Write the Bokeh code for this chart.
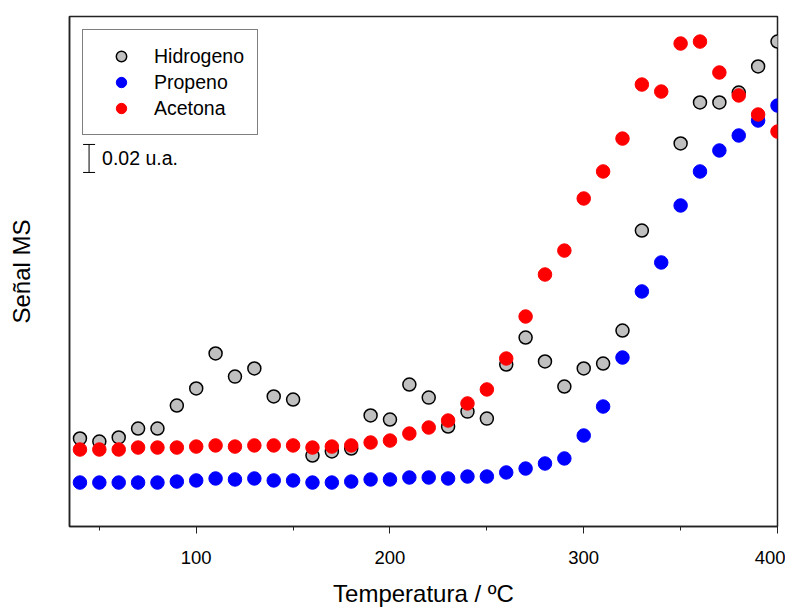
import numpy as np
from bokeh.plotting import figure
from bokeh.models import FixedTicker, Range1d, Legend, LegendItem, ColumnDataSource
from bokeh.core.properties import value
from bokeh.embed import file_html
from bokeh.resources import INLINE

temperatura = [40, 50, 60, 70, 80, 90, 100, 110, 120, 130, 140, 150, 160, 170, 180, 190,
               200, 210, 220, 230, 240, 250, 260, 270, 280, 290, 300, 310, 320, 330, 340,
               350, 360, 370, 380, 390, 400]

hidrogeno = [0.0629, 0.0607, 0.0636, 0.0700, 0.0700, 0.0864, 0.0986, 0.1236, 0.1071, 0.1129,
             0.0929, 0.0907, 0.0507, 0.0536, 0.0557, 0.0793, 0.0764, 0.1014, 0.0921, 0.0714,
             0.0821, 0.0771, 0.1157, 0.1350, 0.1179, 0.1000, 0.1129, 0.1164, 0.1400, 0.2114,
             float("nan"), 0.2736, 0.3029, 0.3029, 0.3100, 0.3286, 0.3464]

propeno = [0.0314, 0.0314, 0.0314, 0.0314, 0.0314, 0.0321, 0.0329, 0.0343, 0.0336, 0.0343,
           0.0329, 0.0329, 0.0314, 0.0314, 0.0321, 0.0336, 0.0336, 0.0350, 0.0350, 0.0343,
           0.0357, 0.0357, 0.0386, 0.0414, 0.0450, 0.0486, 0.0650, 0.0857, 0.1207, 0.1679,
           0.1886, 0.2293, 0.2536, 0.2686, 0.2793, 0.2900, 0.3007]

acetona = [0.0550, 0.0550, 0.0550, 0.0564, 0.0564, 0.0564, 0.0571, 0.0579, 0.0571, 0.0579,
           0.0579, 0.0579, 0.0564, 0.0571, 0.0579, 0.0600, 0.0614, 0.0664, 0.0707, 0.0757,
           0.0879, 0.0979, 0.1200, 0.1500, 0.1800, 0.1971, 0.2343, 0.2536, 0.2771, 0.3157,
           0.3107, 0.3450, 0.3464, 0.3243, 0.3079, 0.2943, 0.2821]

x_ticks = [100, 200, 300, 400]
x_minor = [50, 150, 250, 350]

# scale bar (0.02 u.a.)
scale_x = [44.7]
scale_y0 = [0.2529]
scale_len = 0.02
scale_label = "0.02 u.a."

FONT = "Liberation Sans"

p = figure(width=785, height=609, output_backend="svg", toolbar_location=None,
           x_range=Range1d(34.6, 400), y_range=Range1d(0, 0.3643),
           min_border_left=69, min_border_right=8, min_border_top=16, min_border_bottom=82)
p.xgrid.visible = False
p.ygrid.visible = False
p.outline_line_color = "#222222"
p.outline_line_width = 1.5
p.background_fill_color = "white"
p.border_fill_color = "white"

# x axis
p.xaxis.ticker = FixedTicker(ticks=x_ticks, minor_ticks=x_minor)
p.xaxis.axis_line_color = "#222222"
p.xaxis.axis_line_width = 1.5
p.xaxis.major_tick_out = 7
p.xaxis.major_tick_in = 0
p.xaxis.minor_tick_out = 4
p.xaxis.minor_tick_in = 0
p.xaxis.major_tick_line_color = "#222222"
p.xaxis.minor_tick_line_color = "#222222"
p.xaxis.major_label_text_font = FONT
p.xaxis.major_label_text_font_size = "18.5px"
p.xaxis.major_label_text_color = "black"
p.xaxis.major_label_standoff = 17
p.xaxis.axis_label = "Temperatura / ºC"
p.xaxis.axis_label_text_font = FONT
p.xaxis.axis_label_text_font_size = "24px"
p.xaxis.axis_label_text_font_style = "normal"
p.xaxis.axis_label_text_color = "black"
p.xaxis.axis_label_standoff = 13

# y axis: no ticks
p.yaxis.ticker = FixedTicker(ticks=[])
p.yaxis.axis_line_color = "#222222"
p.yaxis.axis_line_width = 1.5
p.yaxis.major_tick_line_color = None
p.yaxis.minor_tick_line_color = None
p.yaxis.axis_label = "Señal MS"
p.yaxis.axis_label_text_font = FONT
p.yaxis.axis_label_text_font_size = "24px"
p.yaxis.axis_label_text_font_style = "normal"
p.yaxis.axis_label_text_color = "black"
p.yaxis.axis_label_standoff = 35

src = ColumnDataSource(dict(t=temperatura, h=hidrogeno, pr=propeno, ac=acetona))

r_h = p.scatter("t", "h", source=src, size=13, fill_color="#C0C0C0", line_color="black", line_width=1.5)
r_p = p.scatter("t", "pr", source=src, size=13.5, fill_color="#0000FF", line_color="#0000FF", line_width=1)
r_a = p.scatter("t", "ac", source=src, size=13.5, fill_color="#FF0000", line_color="#FF0000", line_width=1)

# scale bar
sy1 = [scale_y0[0] + scale_len]
p.segment(x0=scale_x, y0=scale_y0, x1=scale_x, y1=sy1, line_color="black", line_width=1)
p.scatter(x=scale_x * 2, y=scale_y0 + sy1, marker="dash", size=12, line_color="black", line_width=1)
p.text(x=[scale_x[0] + 6.7], y=[scale_y0[0] + scale_len / 2], text=[scale_label],
       text_font=value(FONT), text_font_size="19.5px", text_baseline="middle",
       text_align="left", text_color="black")

legend = Legend(items=[LegendItem(label="Hidrogeno", renderers=[r_h]),
                       LegendItem(label="Propeno", renderers=[r_p]),
                       LegendItem(label="Acetona", renderers=[r_a])],
                location="top_left", margin=13, padding=13, spacing=0,
                glyph_width=50, glyph_height=26, label_height=26, label_standoff=8,
                label_text_font=FONT, label_text_font_size="19.5px", label_text_color="black",
                border_line_color="black", border_line_width=1.2,
                background_fill_color="white", background_fill_alpha=1)
p.add_layout(legend)

open("out.html", "w").write(file_html(p, INLINE))
